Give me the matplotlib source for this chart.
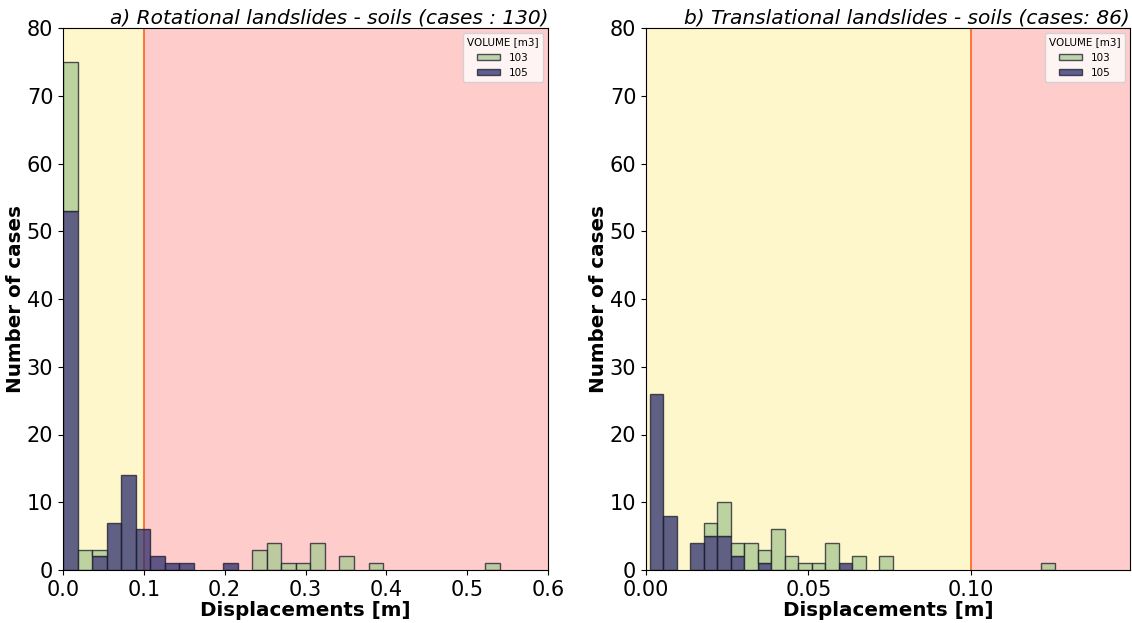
import numpy as np
import matplotlib
matplotlib.use("Agg")
import matplotlib.pyplot as plt
from matplotlib.patches import Patch

# ---- data (counts per histogram bin, 30 bins) ----
# Panel a: rotational landslides (bins span 0 .. 0.54 m)
rot_range = (0.0, 0.54)
rot_105 = [53, 0, 2, 7, 14, 6, 2, 1, 1, 0, 0, 1, 0, 0, 0,
           0, 0, 0, 0, 0, 0, 0, 0, 0, 0, 0, 0, 0, 0, 0]
rot_103 = [22, 3, 1, 0, 0, 0, 0, 0, 0, 0, 0, 0, 0, 3, 4,
           1, 1, 4, 0, 2, 0, 1, 0, 0, 0, 0, 0, 0, 0, 1]
# Panel b: translational landslides (bins span 0.0012 .. 0.1259 m)
tra_range = (0.0012, 0.1259)
tra_105 = [26, 8, 0, 4, 5, 5, 2, 0, 1, 0, 0, 0, 0, 0, 1,
           0, 0, 0, 0, 0, 0, 0, 0, 0, 0, 0, 0, 0, 0, 0]
tra_103 = [0, 0, 0, 0, 2, 5, 2, 4, 2, 6, 2, 1, 1, 4, 0,
           2, 0, 2, 0, 0, 0, 0, 0, 0, 0, 0, 0, 0, 0, 1]

titles = ["a) Rotational landslides - soils (cases : 130)",
          "b) Translational landslides - soils (cases: 86)"]
xlims = [(0, 0.6), (0, 0.149)]
xticks = [[0.0, 0.1, 0.2, 0.3, 0.4, 0.5, 0.6], [0.0, 0.05, 0.10]]
xticklabels = [["0.0", "0.1", "0.2", "0.3", "0.4", "0.5", "0.6"],
               ["0.00", "0.05", "0.10"]]
threshold = 0.1
legend_labels = ["103", "105"]

col_103 = "#a7c891"
col_105 = "#2b2d6c"
edge = "#1a1a2a"

fig = plt.figure(figsize=(11.32, 6.23), dpi=100)
axes = [fig.add_axes([63/1132, 1-570/623, 485/1132, 542/623]),
        fig.add_axes([646/1132, 1-570/623, 484/1132, 542/623])]

panels = [(rot_range, rot_105, rot_103), (tra_range, tra_105, tra_103)]

for i, (ax, (rng, c105, c103)) in enumerate(zip(axes, panels)):
    edges = np.linspace(rng[0], rng[1], len(c105) + 1)
    width = edges[1] - edges[0]
    ax.axvspan(xlims[i][0], threshold, color="#fff7cc", zorder=0, lw=0)
    ax.axvspan(threshold, xlims[i][1], color="#ffcccc", zorder=0, lw=0)
    ax.axvline(threshold, color="#ff6a2a", lw=1.3, zorder=1)
    c105 = np.array(c105); c103 = np.array(c103)
    m = c105 > 0
    ax.bar(edges[:-1][m], c105[m], width=width, align="edge", color=col_105,
           alpha=0.75, edgecolor=edge, linewidth=1.0, zorder=2)
    m = c103 > 0
    ax.bar(edges[:-1][m], c103[m], bottom=c105[m], width=width, align="edge",
           color=col_103, alpha=0.75, edgecolor=edge, linewidth=1.0, zorder=2)
    ax.set_xlim(*xlims[i])
    ax.set_ylim(0, 80)
    ax.set_xticks(xticks[i])
    ax.set_xticklabels(xticklabels[i])
    ax.tick_params(labelsize=15)
    ax.set_xlabel("Displacements [m]", fontsize=14.3, fontweight="bold", labelpad=1)
    ax.set_ylabel("Number of cases", fontsize=14.3, fontweight="bold", labelpad=1)
    ax.set_title(titles[i], loc="right", fontsize=14.5, style="italic", pad=3)
    handles = [Patch(facecolor=col_103, alpha=0.75, edgecolor=edge),
               Patch(facecolor=col_105, alpha=0.75, edgecolor=edge)]
    ax.legend(handles, legend_labels, title="VOLUME [m3]", loc="upper right",
              fontsize=7.5, title_fontsize=7.5, handlelength=2.2, handleheight=0.6,
              frameon=True, fancybox=True)

fig.savefig("out.png", dpi=100)
